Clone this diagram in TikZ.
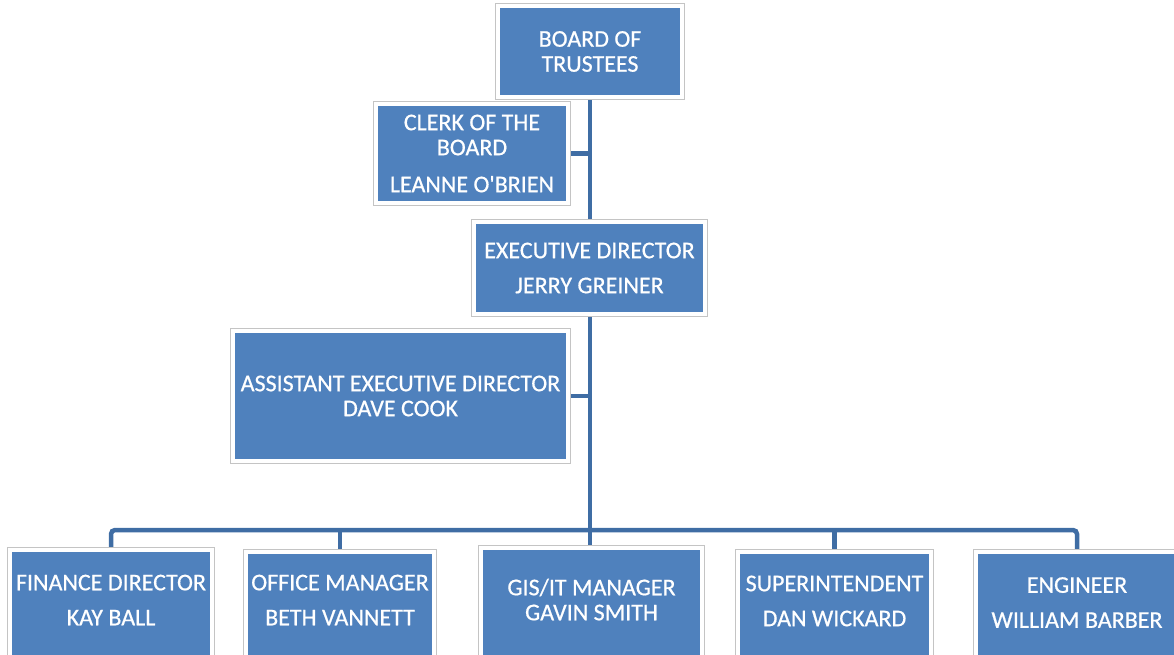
\documentclass[tikz,border=0pt]{standalone}
\usepackage{fontspec}
\setmainfont{Carlito}
\newfontfamily\boxfont{Carlito}[FakeBold=0.6]
\usetikzlibrary{backgrounds}
\definecolor{boxblue}{HTML}{4F81BD}
\definecolor{edgegray}{HTML}{C4C4C4}
\definecolor{connblue}{HTML}{3F6DA4}
\tikzset{
  orgbox/.style={rectangle, fill=boxblue, draw=white, line width=4pt,
    preaction={draw=edgegray, line width=5.5pt},
    text=white, align=center, inner sep=0pt,
    font=\boxfont\fontsize{24}{25}\selectfont},
  boxtext/.style={text=white, align=center, inner sep=0pt,
    font=\boxfont\fontsize{24}{25}\selectfont},
  conn/.style={draw=connblue, line width=4.5pt},
}
\begin{document}
\begin{tikzpicture}[x=1pt, y=-1pt]
\useasboundingbox (0,0) rectangle (1174,654);
\clip (0,0) rectangle (1174,654);
% top chain
\node[orgbox, minimum width=184.5pt, minimum height=91.5pt] (board) at (590,51.5) {BOARD OF\\TRUSTEES};
\node[orgbox, minimum width=192.5pt, minimum height=99.5pt] (clerk) at (472,153.5) {CLERK OF THE\\BOARD\\[12pt]LEANNE O\textquotesingle BRIEN};
\node[orgbox, minimum width=231.5pt, minimum height=92.5pt] (exec) at (589.5,268) {EXECUTIVE DIRECTOR\\[10pt]JERRY GREINER};
\node[orgbox, minimum width=335.5pt, minimum height=130.5pt] (asst) at (400.5,396) {ASSISTANT EXECUTIVE DIRECTOR\\DAVE COOK};
% bottom row (boxes run past the lower edge)
\node[orgbox, anchor=north, minimum width=202.5pt, minimum height=140pt] (fin) at (111,547.75) {};
\node[orgbox, anchor=north, minimum width=188.5pt, minimum height=140pt] (office) at (340,549.75) {};
\node[orgbox, anchor=north, minimum width=221.5pt, minimum height=140pt] (gis) at (591.5,545.75) {};
\node[orgbox, anchor=north, minimum width=193.5pt, minimum height=140pt] (super) at (834.5,549.75) {};
\node[orgbox, anchor=north, minimum width=202.5pt, minimum height=140pt] (eng) at (1077,549.75) {};
\node[boxtext] (fin-t) at (111,600) {FINANCE DIRECTOR\\[10pt]KAY BALL};
\node[boxtext] (office-t) at (340,600) {OFFICE MANAGER\\[10pt]BETH VANNETT};
\node[boxtext] (gis-t) at (591.5,599.5) {GIS/IT MANAGER\\GAVIN SMITH};
\node[boxtext] (super-t) at (834.5,601) {SUPERINTENDENT\\[10pt]DAN WICKARD};
\node[boxtext] (eng-t) at (1077,602.5) {ENGINEER\\[10pt]WILLIAM BARBER};
% connectors
\begin{scope}[on background layer]
\coordinate (bus) at (590,530);
\draw[conn] (board.south) -- (board.south |- gis.north);
\draw[conn] (clerk.east) -- (clerk.east -| board.south);
\draw[conn] (asst.east) -- (asst.east -| board.south);
\draw[conn, rounded corners=4pt] (fin.north) |- (bus) -| (eng.north);
\draw[conn] (office.north) -- (office.north |- bus);
\draw[conn] (super.north) -- (super.north |- bus);
\end{scope}
\end{tikzpicture}
\end{document}
